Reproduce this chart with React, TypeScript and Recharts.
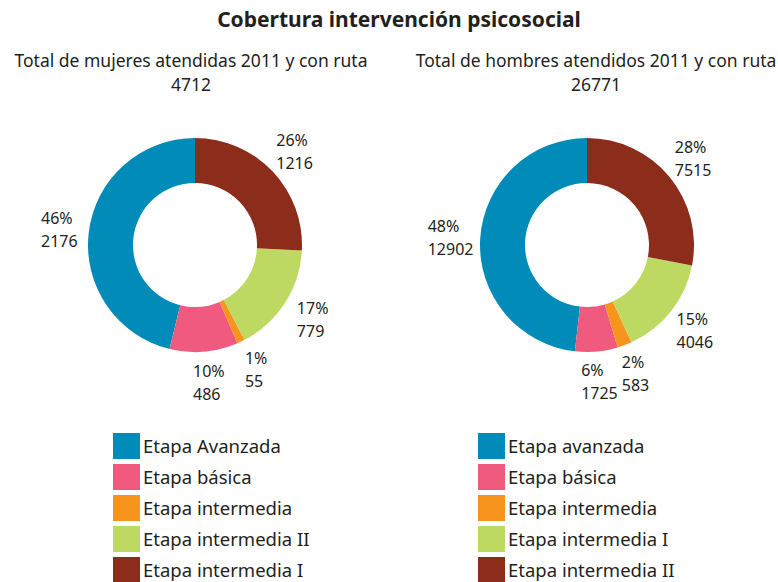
import React from "react";
import { PieChart, Pie, Cell, Legend } from "recharts";

// left donut (mujeres)
const womenStages = ["Etapa Avanzada", "Etapa básica", "Etapa intermedia", "Etapa intermedia II", "Etapa intermedia I"];
const womenValues = [2176, 486, 55, 779, 1216];
const womenTotal = 4712;

// right donut (hombres)
const menStages = ["Etapa avanzada", "Etapa básica", "Etapa intermedia", "Etapa intermedia I", "Etapa intermedia II"];
const menValues = [12902, 1725, 583, 4046, 7515];
const menTotal = 26771;

const colors = ["#008bb8", "#f05a7e", "#f7941e", "#bed962", "#8c2d1b"];

const FONT = "'Noto Sans', sans-serif";
const TEXT = "#231f20";
const RADIAN = Math.PI / 180;

const renderLabel = (props: any) => {
  const { cx, cy, midAngle, outerRadius, percent, value } = props;
  const r = outerRadius + 30;
  const x = cx + r * Math.cos(-midAngle * RADIAN);
  const y = cy + r * Math.sin(-midAngle * RADIAN);
  const pct = `${Math.round(percent * 100)}%`;
  const num = String(value);
  const w = Math.max(pct.length, num.length) * 9;
  return (
    <text x={x - w / 2} y={y} fill={TEXT} fontSize={16} fontFamily={FONT} textAnchor="start">
      <tspan x={x - w / 2} dy={-5}>{pct}</tspan>
      <tspan x={x - w / 2} dy={23}>{num}</tspan>
    </text>
  );
};

const makeLegend = (stages: string[]) => () => (
  <div style={{ fontFamily: FONT, fontSize: 18.5, color: TEXT }}>
    {stages.map((name, i) => (
      <div key={name} style={{ display: "flex", alignItems: "center", height: 31 }}>
        <div style={{ width: 27, height: 26, background: colors[i], marginRight: 3, flexShrink: 0 }} />
        <span style={{ whiteSpace: "nowrap", lineHeight: "24px" }}>{name}</span>
      </div>
    ))}
  </div>
);

function Donut({ stages, values, cx, legendLeft }: { stages: string[]; values: number[]; cx: number; legendLeft: number }) {
  const data = stages.map((name, i) => ({ name, value: values[i] }));
  return (
    <PieChart width={389} height={582} margin={{ top: 0, right: 0, bottom: 0, left: 0 }}>
      <Pie
        data={data}
        dataKey="value"
        nameKey="name"
        cx={cx}
        cy={245}
        innerRadius={62}
        outerRadius={107}
        startAngle={90}
        endAngle={450}
        stroke="none"
        label={renderLabel}
        labelLine={false}
        isAnimationActive={false}
      >
        {data.map((_, i) => (
          <Cell key={i} fill={colors[i]} />
        ))}
      </Pie>
      <Legend
        content={makeLegend(stages)}
        wrapperStyle={{ position: "absolute", left: legendLeft, top: 430, width: 290, bottom: "auto" }}
      />
    </PieChart>
  );
}

export default function App() {
  return (
    <div style={{ position: "absolute", left: 0, top: 0, width: 778, height: 582, background: "#fff", overflow: "hidden", fontFamily: FONT, color: TEXT }}>
      <div style={{ position: "absolute", top: 5, left: 0, width: 798, textAlign: "center", fontSize: 21, fontWeight: 700 }}>
        Cobertura intervención psicosocial
      </div>
      <div style={{ position: "absolute", top: 48, left: 0, width: 382, textAlign: "center", fontSize: 17.5, lineHeight: "24px" }}>
        Total de mujeres atendidas 2011 y con ruta
        <br />
        {womenTotal}
      </div>
      <div style={{ position: "absolute", top: 48, left: 391, width: 410, textAlign: "center", fontSize: 17.5, lineHeight: "24px" }}>
        Total de hombres atendidos 2011 y con ruta
        <br />
        {menTotal}
      </div>
      <div style={{ position: "absolute", left: 0, top: 0 }}>
        <Donut stages={womenStages} values={womenValues} cx={195} legendLeft={113} />
      </div>
      <div style={{ position: "absolute", left: 389, top: 0 }}>
        <Donut stages={menStages} values={menValues} cx={198} legendLeft={89} />
      </div>
    </div>
  );
}
